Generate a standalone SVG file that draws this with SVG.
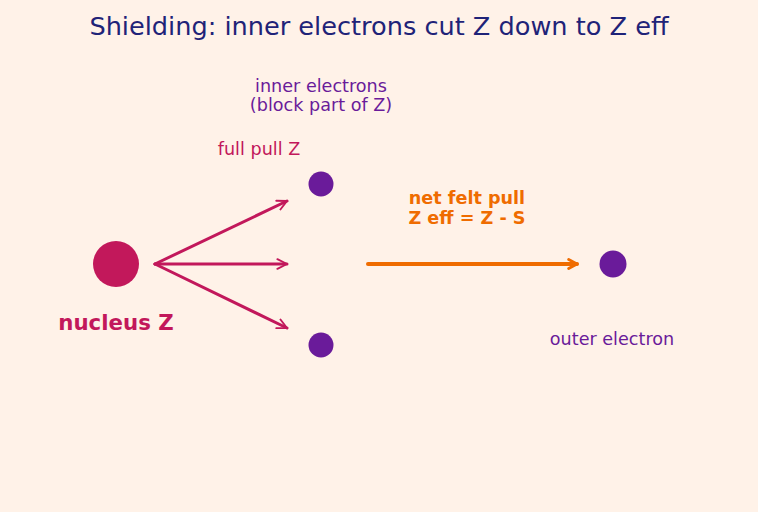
<svg xmlns="http://www.w3.org/2000/svg" width="758" height="512" viewBox="0 0 758 512">
<defs>
<style>
text{font-family:"DejaVu Sans","Liberation Sans",sans-serif;text-anchor:middle}
.pink{fill:#c2185b}
.purple{fill:#6a1b9a}
.orange{fill:#ef6c00}
.lbl{font-size:17.6px}
.pull{stroke:#c2185b;stroke-width:3;fill:none;stroke-linecap:round}
</style>
<marker id="ah" viewBox="0 0 10 10" refX="9" refY="5" markerWidth="4" markerHeight="4" markerUnits="strokeWidth" orient="auto">
<path d="M1,1 L9,5 L1,9" fill="none" stroke="#c2185b" stroke-width="1.6" stroke-linecap="round" stroke-linejoin="round"/>
</marker>
<marker id="ao" viewBox="0 0 10 10" refX="8" refY="5" markerWidth="3.2" markerHeight="3.2" markerUnits="strokeWidth" orient="auto">
<path d="M1.5,1.5 L8,5 L1.5,8.5" fill="none" stroke="#ef6c00" stroke-width="2.2" stroke-linecap="round" stroke-linejoin="round"/>
</marker>
</defs>
<rect width="758" height="512" fill="#fff2e8"/>
<text x="379" y="35" font-size="25.6" fill="#1f2378">Shielding: inner electrons cut Z down to Z eff</text>
<g id="nucleus">
<circle cx="116" cy="264" r="23" class="pink"/>
<text x="116" y="330" font-size="21.3" font-weight="bold" class="pink">nucleus Z</text>
</g>
<g id="inner-top">
<circle cx="321" cy="184" r="12.5" class="purple"/>
</g>
<g id="inner-bottom">
<circle cx="321" cy="345" r="12.5" class="purple"/>
</g>
<g id="inner-label">
<text x="321" y="92" class="purple lbl">inner electrons</text>
<text x="321" y="111" class="purple lbl">(block part of Z)</text>
</g>
<g id="full-pull-label">
<text x="259" y="155" class="pink lbl">full pull Z</text>
</g>
<g id="outer">
<circle cx="613" cy="264" r="13.5" class="purple"/>
<text x="612" y="345" class="purple lbl">outer electron</text>
</g>
<g id="net-label">
<text x="467" y="204" font-weight="bold" class="orange lbl">net felt pull</text>
<text x="467" y="224" font-weight="bold" class="orange lbl">Z eff = Z - S</text>
</g>
<g id="connectors">
<line x1="155" y1="264" x2="287" y2="201" class="pull" marker-end="url(#ah)"/>
<line x1="155" y1="264" x2="287" y2="264" class="pull" marker-end="url(#ah)"/>
<line x1="155" y1="264" x2="287" y2="328" class="pull" marker-end="url(#ah)"/>
<line x1="368" y1="264" x2="577" y2="264" stroke="#ef6c00" stroke-width="4" stroke-linecap="round" marker-end="url(#ao)"/>
</g>
</svg>
